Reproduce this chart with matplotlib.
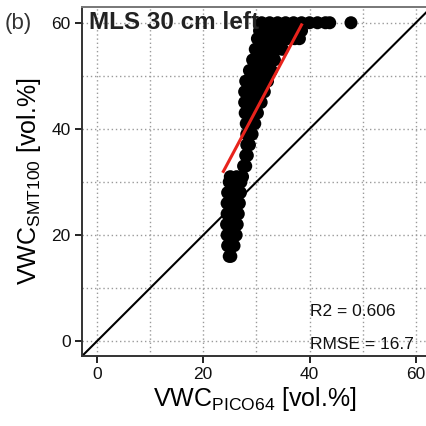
#%%
from matplotlib import pyplot as plt
import numpy as np

plt.rcParams['font.family'] = ['Liberation Sans', 'DejaVu Sans']
plt.rcParams['mathtext.fontset'] = 'custom'
plt.rcParams['mathtext.rm'] = 'Liberation Sans'

# VWC readings (PICO64 vs SMT100), traced row by row from the scatter cloud
pico_x = [24.9, 25.2,
          24.6, 25.4, 25.8,
          24.5, 25.5, 26.2,
          24.4, 25.4, 26.4,
          24.5, 25.6, 26.6,
          24.5, 25.7, 26.8,
          24.6, 25.8, 27.0,
          24.9, 26.0, 27.1,
          25.1, 26.3, 27.4,
          27.6, 28.0,
          28.0, 28.3,
          28.2, 28.7,
          28.2, 29.2,
          28.1, 29.0, 29.7,
          27.9, 29.0, 30.2,
          27.8, 28.9, 30.0, 30.9,
          27.8, 29.0, 30.3, 31.5,
          28.0, 29.3, 30.7, 32.1,
          28.7, 30.0, 31.4, 32.8,
          29.3, 30.7, 32.1, 33.4,
          29.8, 31.2, 32.6, 34.0, 34.9,
          30.2, 31.6, 33.0, 34.4, 35.8, 37.2, 38.1,
          30.6, 32.0, 33.4, 34.8, 36.2, 37.6, 38.5,
          31.0, 32.5, 34.0, 35.5, 37.0, 38.5, 40.0, 41.5, 43.0, 43.8, 47.8]
smt_y = [16, 16,
         18, 18, 18,
         20, 20, 20,
         22, 22, 22,
         24, 24, 24,
         26, 26, 26,
         28, 28, 28,
         30, 30, 30,
         31, 31, 31,
         33, 33,
         35, 35,
         37, 37,
         39, 39,
         41, 41, 41,
         43, 43, 43,
         45, 45, 45, 45,
         47, 47, 47, 47,
         49, 49, 49, 49,
         51, 51, 51, 51,
         53, 53, 53, 53,
         55, 55, 55, 55, 55,
         57, 57, 57, 57, 57, 57, 57,
         58.5, 58.5, 58.5, 58.5, 58.5, 58.5, 58.5,
         60, 60, 60, 60, 60, 60, 60, 60, 60, 60, 60]

fit_x = [23.8, 38.5]  # regression line ends
fit_y = [32.0, 59.6]

r2_text = "R2 = 0.606"
rmse_text = "RMSE = 16.7"

fig = plt.figure(figsize=(4.27, 4.26), dpi=100)
ax = fig.add_axes([0.192, 0.164, 0.808, 0.820])

ax.set_xlim(-2.8, 62.1)
ax.set_ylim(-2.8, 63.0)
ax.set_xticks([0, 20, 40, 60])
ax.set_yticks([0, 20, 40, 60])
ax.set_xticks([10, 30, 50], minor=True)
ax.set_yticks([10, 30, 50], minor=True)
ax.grid(True, which="both", color="#9a9a9a", linestyle=(0, (1, 2)), linewidth=1.0, zorder=0)
ax.set_axisbelow(True)
ax.tick_params(which="major", length=5, width=1.4, color="#222222", labelsize=12.5, pad=3, labelcolor="#111111")
ax.tick_params(which="minor", length=0)

ax.axline((0, 0), slope=1, color="black", linewidth=1.5, zorder=2)
ax.scatter(pico_x, smt_y, s=88, color="black", edgecolors="none", zorder=3)
ax.plot(fit_x, fit_y, color="#e8231c", linewidth=2.2, zorder=4)

for side in ["top", "right"]:
    ax.spines[side].set_color("#777777")
    ax.spines[side].set_linewidth(1.4)
for side in ["left", "bottom"]:
    ax.spines[side].set_color("#333333")
    ax.spines[side].set_linewidth(1.4)

ax.text(-1.5, 60, "MLS 30 cm left", fontsize=17.5, fontweight="bold", color="#222222", va="center", ha="left", zorder=5)
ax.text(40, 4.7, r2_text, fontsize=12.5, color="#111111", va="baseline", ha="left", zorder=5)
ax.text(40, -1.4, rmse_text, fontsize=12.5, color="#111111", va="baseline", ha="left", zorder=5)
fig.text(0.012, 1 - 23 / 426, "(b)", fontsize=16, color="#333333", va="center", ha="left")

ax.set_xlabel(r"VWC$_{\mathregular{PICO64}}$ [vol.%]", fontsize=18, labelpad=2)
ax.set_ylabel(r"VWC$_{\mathregular{SMT100}}$ [vol.%]", fontsize=18, labelpad=6)

fig.savefig("out.png", dpi=100)
# %%
